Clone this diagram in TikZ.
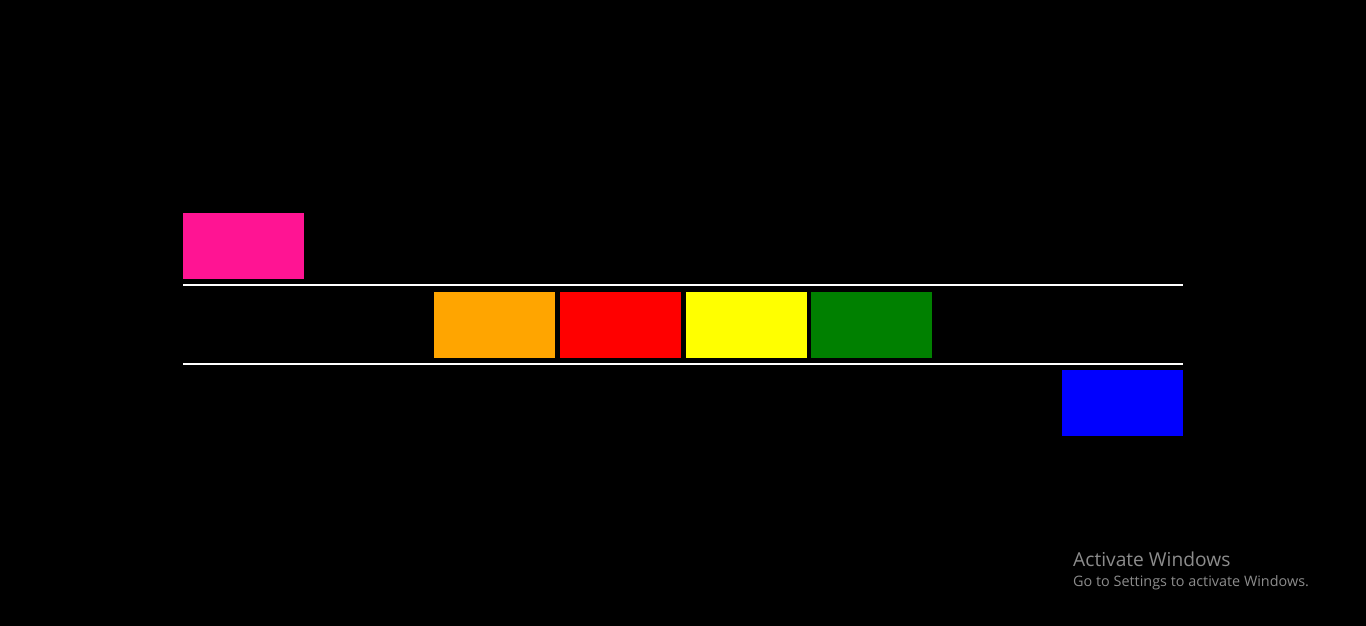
\documentclass[tikz,border=0pt]{standalone}
\usepackage{fontspec}
\setmainfont{Open Sans}
\definecolor{cpink}{HTML}{FF1493}
\definecolor{corange}{HTML}{FFA500}
\definecolor{cred}{HTML}{FF0000}
\definecolor{cyellow}{HTML}{FFFF00}
\definecolor{cgreen}{HTML}{008000}
\definecolor{cblue}{HTML}{0000FF}
\definecolor{wmgray}{HTML}{8C8C8C}
\begin{document}
\begin{tikzpicture}[x=1pt,y=-1pt,
  block/.style={draw=none,inner sep=0pt,outer sep=0pt,minimum width=121pt,minimum height=66pt,anchor=north west},
  rail/.style={white,line width=2pt},
  wm/.style={wmgray,inner sep=0pt,anchor=base west}]
\fill[black] (0,0) rectangle (1366,626);
\useasboundingbox (0,0) rectangle (1366,626);
\node[block,fill=cpink] (pink) at (183,213) {};
\node[block,fill=corange] (orange) at (434,291.5) {};
\node[block,fill=cred] (red) at (560,291.5) {};
\node[block,fill=cyellow] (yellow) at (686,291.5) {};
\node[block,fill=cgreen] (green) at (811,291.5) {};
\node[block,fill=cblue] (blue) at (1062,370) {};
\coordinate (t1) at (183,285);
\coordinate (t2) at (1183,285);
\coordinate (b1) at (183,364);
\coordinate (b2) at (1183,364);
\draw[rail] (t1) -- (t2);
\draw[rail] (b1) -- (b2);
\node[wm,font=\fontsize{19.2}{21}\selectfont] (act) at (1073,566) {Activate Windows};
\node[wm,font=\fontsize{14.4}{16}\selectfont] (go) at (1073,586) {Go to Settings to activate Windows.};
\end{tikzpicture}
\end{document}
